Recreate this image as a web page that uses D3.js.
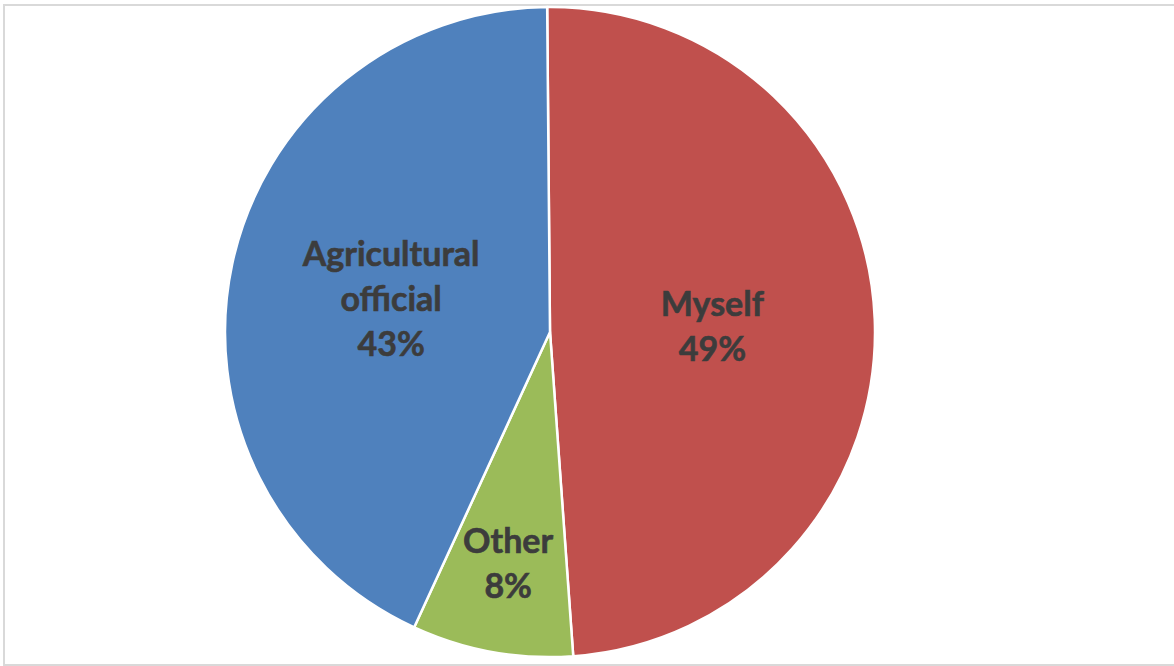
<!DOCTYPE html>
<html>
<head>
<meta charset="utf-8">
<script src="https://cdn.jsdelivr.net/npm/d3@7/dist/d3.min.js"></script>
<style>
  html, body { margin: 0; padding: 0; background: #ffffff; }
  svg { display: block; }
</style>
</head>
<body>
<svg id="chart" width="1174" height="666"></svg>
<script>
// Who the respondents rely on for advice
const categories = ["Myself", "Other", "Agricultural official"];
const labelLines = [["Myself"], ["Other"], ["Agricultural", "official"]];
const shares = [49, 8, 43];
const colors = ["#C0504D", "#9BBB59", "#4F81BD"];

const width = 1174, height = 666;
const svg = d3.select("#chart");

// chart area frame
svg.append("rect")
  .attr("x", 4).attr("y", 5)
  .attr("width", width + 10).attr("height", 660)
  .attr("fill", "#ffffff")
  .attr("stroke", "#d9d9d9")
  .attr("stroke-width", 2);

const cx = 550, cy = 332, radius = 325;
const startOffset = -0.5 * Math.PI / 180;

const pie = d3.pie().sort(null).value(d => d.value)
  .startAngle(startOffset).endAngle(2 * Math.PI + startOffset);
const data = categories.map((c, i) => ({ name: c, lines: labelLines[i], value: shares[i], color: colors[i] }));
const arcs = pie(data);

const arc = d3.arc().innerRadius(0).outerRadius(radius);
const g = svg.append("g").attr("transform", `translate(${cx},${cy})`);

g.selectAll("path.slice")
  .data(arcs)
  .join("path")
  .attr("class", "slice")
  .attr("d", arc)
  .attr("fill", d => d.data.color)
  .attr("stroke", "#ffffff")
  .attr("stroke-width", 2.5)
  .attr("stroke-linejoin", "round");

// labels sit at half radius; narrow slices push theirs outward
const labelArc = d => {
  const span = d.endAngle - d.startAngle;
  const f = span < 0.8 ? 0.72 : 0.5;
  return d3.arc().innerRadius(radius * f).outerRadius(radius * f).centroid(d);
};

const fontSize = 34, lineH = 45;
g.selectAll("text.lbl")
  .data(arcs)
  .join("text")
  .attr("class", "lbl")
  .attr("text-anchor", "middle")
  .attr("font-family", "Lato, 'Open Sans', sans-serif")
  .attr("font-weight", "bold")
  .attr("font-size", fontSize)
  .attr("fill", "#3c3c3c")
  .attr("stroke", "#3c3c3c")
  .attr("stroke-width", 0.6)
  .each(function (d) {
    const [x, y] = labelArc(d);
    const lines = d.data.lines.concat([Math.round(d.data.value) + "%"]);
    const n = lines.length;
    const t = d3.select(this);
    lines.forEach((s, i) => {
      t.append("tspan")
        .attr("x", x)
        .attr("y", y + (i - (n - 1) / 2) * lineH)
        .attr("dy", "0.38em")
        .text(s);
    });
  });
</script>
</body>
</html>
